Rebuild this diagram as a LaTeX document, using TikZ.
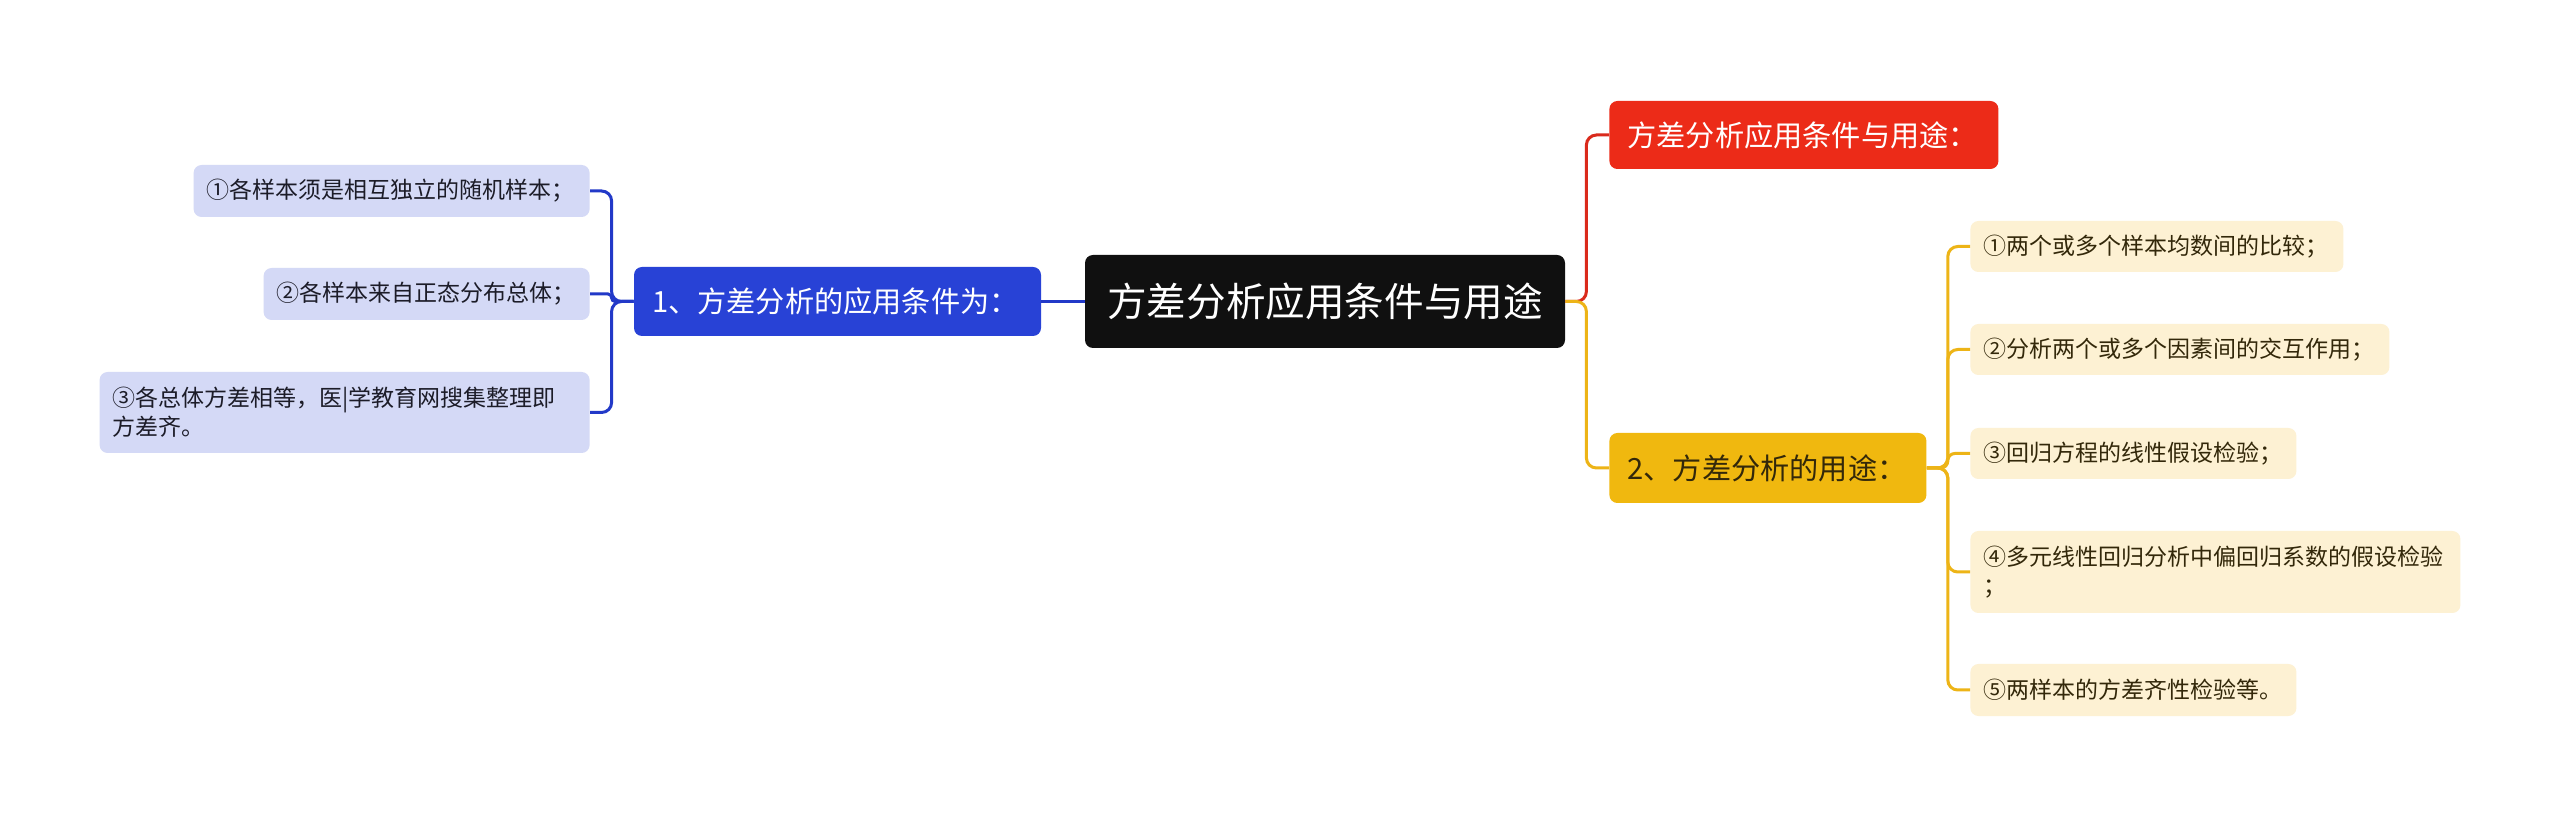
\documentclass[tikz,border=0pt]{standalone}
\usepackage{fontspec}
\setmainfont{Noto Sans CJK SC}
\definecolor{cblack}{HTML}{101010}
\definecolor{cblue}{HTML}{2842D6}
\definecolor{cblueline}{HTML}{2239C8}
\definecolor{cleafL}{HTML}{D4D9F6}
\definecolor{cred}{HTML}{EC2B18}
\definecolor{credline}{HTML}{DA2A1C}
\definecolor{cyellow}{HTML}{F0B80F}
\definecolor{cyline}{HTML}{EDB417}
\definecolor{cleafR}{HTML}{FDF1D3}
\definecolor{ctextL}{HTML}{1C1C28}
\definecolor{ctextR}{HTML}{33280A}
\begin{document}
\begin{tikzpicture}[x=0.5pt,y=-0.5pt,
  box/.style={rounded corners=4pt, inner ysep=0pt, align=left},
  rootbox/.style={box, fill=cblack, text=white, inner xsep=10pt, minimum height=46.5pt,
    align=center, font=\fontsize{19.8pt}{24pt}\selectfont},
  mainbox/.style={box, inner xsep=9pt, font=\fontsize{14.6pt}{18pt}\selectfont},
  leafL/.style={box, fill=cleafL, text=ctextL, inner xsep=6.5pt, anchor=east,
    font=\fontsize{11.5pt}{14.5pt}\selectfont},
  leafR/.style={box, fill=cleafR, text=ctextR, inner xsep=6.5pt, anchor=west,
    font=\fontsize{11.5pt}{14.5pt}\selectfont},
  conn/.style={line width=1.5pt, rounded corners=5pt},
]
\useasboundingbox (0,0) rectangle (2560,817);
\fill[white] (0,0) rectangle (2560,817);

% nodes
\node[rootbox, text width=220pt] (root) at (1325,301.5) {方差分析应用条件与用途};
\node[mainbox, fill=cblue, text=white, text width=185.5pt, minimum height=34.5pt] (blue) at (837.5,301.5) {1、方差分析的应用条件为：};
\node[mainbox, fill=cred, text=white, text width=176.5pt, minimum height=34pt, anchor=west] (red) at (1609,135) {方差分析应用条件与用途：};
\node[mainbox, fill=cyellow, text=ctextR, text width=140.5pt, minimum height=35pt, anchor=west] (yel) at (1609,468) {2、方差分析的用途：};

\node[leafL, text width=185pt, minimum height=26pt] (L1) at (590,191) {①各样本须是相互独立的随机样本；};
\node[leafL, text width=150pt, minimum height=26pt] (L2) at (590,294) {②各样本来自正态分布总体；};
\node[leafL, text width=232pt, minimum height=40.5pt] (L3) at (590,412.5) {③各总体方差相等，医|学教育网搜集整理即\\方差齐。};

\node[leafR, text width=173.5pt, minimum height=25.5pt] (R1) at (1970,246.5) {①两个或多个样本均数间的比较；};
\node[leafR, text width=196.5pt, minimum height=25.5pt] (R2) at (1970,349.5) {②分析两个或多个因素间的交互作用；};
\node[leafR, text width=150pt, minimum height=25.5pt] (R3) at (1970,453.5) {③回归方程的线性假设检验；};
\node[leafR, text width=232pt, minimum height=41pt] (R4) at (1970,572) {④多元线性回归分析中偏回归系数的假设检验\\；};
\node[leafR, text width=150pt, minimum height=26pt] (R5) at (1970,690) {⑤两样本的方差齐性检验等。};

% connectors
\draw[conn, cblueline] (root.west) -- (blue.east);
\draw[conn, cblueline] (blue.west) -- ++(-22,0) |- (L1.east);
\draw[conn, cblueline, rounded corners=1.8pt] (blue.west) -- ++(-22,0) |- (L2.east);
\draw[conn, cblueline] (blue.west) -- ++(-22,0) |- (L3.east);

\draw[conn, credline] (root.east) -- ++(21,0) |- (red.west);
\draw[conn, cyline] (root.east) -- ++(21,0) |- (yel.west);

\draw[conn, cyline] (yel.east) -- ++(21,0) |- (R1.west);
\draw[conn, cyline] (yel.east) -- ++(21,0) |- (R2.west);
\draw[conn, cyline, rounded corners=3.5pt] (yel.east) -- ++(21,0) |- (R3.west);
\draw[conn, cyline] (yel.east) -- ++(21,0) |- (R4.west);
\draw[conn, cyline] (yel.east) -- ++(21,0) |- (R5.west);
\end{tikzpicture}
\end{document}
